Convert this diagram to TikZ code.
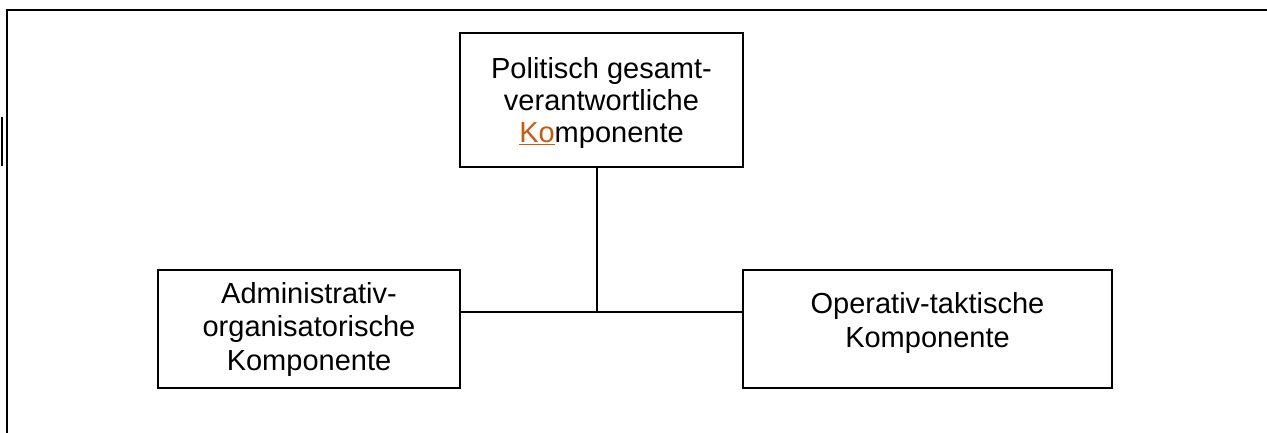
\documentclass[tikz,border=0pt]{standalone}
\usepackage{fontspec}
\setmainfont{Liberation Sans}
\definecolor{kocol}{RGB}{197,90,17}
\begin{document}
\begin{tikzpicture}[x=1pt,y=-1pt,
  box/.style={draw=black, line width=2pt, rectangle, inner sep=0pt, align=center,
     font=\fontsize{29}{33.5}\selectfont},
  conn/.style={draw=black, line width=2pt},
  lbl/.style={align=center, inner sep=0pt, font=\fontsize{29}{33.5}\selectfont}]
\useasboundingbox (0,0) rectangle (1267,432);
% outer frame
\draw[line width=2.5pt] (7,440) -- (7,10) -- (1275,10);
\draw[line width=2pt] (2,117) -- (2,166);
% boxes
\node[box, minimum width=283pt, minimum height=134pt] (top) at (601.5,100) {};
\node[lbl, font=\fontsize{29}{32}\selectfont] (toptext) at (601.5,103)
  {Politisch gesamt-\\verantwortliche\\{\color{kocol}\underline{Ko}}mponente};
\node[box, minimum width=302pt, minimum height=118pt] (left) at (309,329)
  {Administrativ-\\organisatorische\\Komponente};
\node[box, minimum width=369pt, minimum height=118pt] (right) at (927.5,329) {};
\node[lbl] (righttext) at (927.5,323) {Operativ-taktische\\Komponente};
% connectors
\coordinate (j) at (597,312);
\draw[conn] (left.east |- j) -- (right.west |- j);
\draw[conn] (top.south -| j) -- (j);
\end{tikzpicture}
\end{document}
